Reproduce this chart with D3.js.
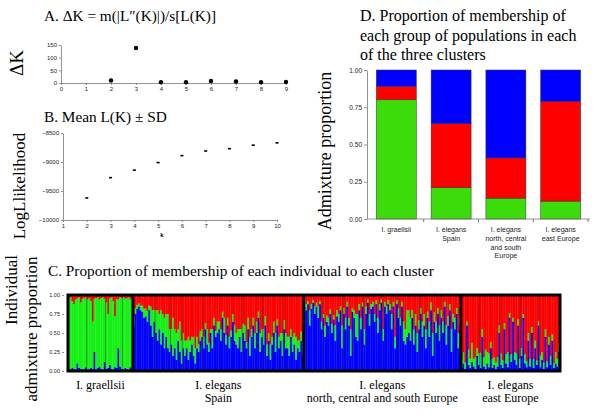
<!DOCTYPE html>
<html><head><meta charset="utf-8">
<script src="https://cdn.jsdelivr.net/npm/d3@7"></script>
<style>body{margin:0;background:#fff}svg{display:block}
.serif{font-family:"Liberation Serif","Times New Roman",Times,"DejaVu Serif",serif}
.sans{font-family:"Liberation Sans",Arial,Helvetica,sans-serif}
</style>
</head><body>
<svg id="c" width="600" height="417"></svg>
<script>
// ---------- DATA ----------
// Panel A: delta K
const dkK = [2,3,4,5,6,7,8,9];
const dkValues = [10,138,3,3,8,6,3,4];
const dkXTicks = [0,1,2,3,4,5,6,7,8,9];
const dkYTicks = [0,50,100,150];
// Panel B: mean L(K)
const lkK = [2,3,4,5,6,7,8,9,10];
const lkMean = [-9620,-9270,-9140,-9010,-8890,-8810,-8770,-8710,-8670];
const lkXTicks = [1,2,3,4,5,6,7,8,9,10];
const lkYTicks = [-10000,-9500,-9000,-8500];
// Panel D: group proportions
const groupLines = [["I. graellsii"],["I. elegans","Spain"],["I. elegans","north, central","and south","Europe"],["I. elegans","east Europe"]];
const groupGreen = [0.80,0.21,0.14,0.12];
const groupRed = [0.09,0.43,0.27,0.67];
const groupBlue = [0.11,0.36,0.59,0.21];
const propTicks = [0,0.25,0.5,0.75,1];
// Panel C: individual proportions (%), blue (bottom) and green (middle); red is the rest
const graellsiiBlue = [3,2,4,3,2,10,4,3,2,3,5,2,3,4,3,25,2,4,6,3,2,12,3,4,8,3,2,5,4,30,6,3,2,4,3,2,5,3];
const graellsiiGreen = [92,95,88,85,92,86,93,87,93,93,92,92,93,88,62,70,94,93,88,93,95,83,87,71,88,94,90,67,91,64,91,93,95,91,93,95,89,93];
const spainBlue = [60,75,82,85,80,78,70,72,65,80,60,45,65,50,40,55,35,50,30,45,30,25,35,20,30,15,40,25,10,30,20,30,15,25,35,20,10,30,25,40,45,30,55,35,25,50,30,60,45,50,55,40,70,50,35,60,30,45,65,40,35,30,45,25,50,40,30,55,20,45,60,30,50,70,25,45,35,60,20,40,15,35,50,25,60,30,40,20,55,30,30,20,45,25,35,15,30,25,40,20];
const spainGreen = [10,8,5,4,6,8,12,10,14,6,25,35,15,30,40,20,45,25,40,30,45,30,20,50,25,35,15,40,30,20,20,10,30,15,10,25,20,15,10,12,10,15,8,20,12,5,25,10,8,15,10,15,8,20,12,10,15,8,10,20,15,25,10,30,12,20,8,15,25,10,10,20,15,8,25,10,20,12,15,10,20,10,15,25,8,15,10,30,12,20,15,25,10,20,15,30,10,15,12,20];
const ncsBlue = [85,80,88,60,82,90,75,85,70,88,55,70,45,65,60,75,50,68,40,72,65,80,30,75,55,85,60,20,78,70,45,40,80,55,85,35,75,90,60,82,85,65,88,50,80,90,40,85,75,88,80,55,85,30,88,70,60,85,40,35,45,50,40,70,35,60,25,55,75,45,60,30,70,45,80,20,65,50,75,40,70,50,85,35,60,80,25,65,55,75,30,60];
const ncsGreen = [5,8,4,20,6,3,10,5,15,4,10,5,15,8,10,6,12,5,20,8,10,5,30,8,15,6,10,35,5,10,30,35,8,15,5,20,10,4,15,6,6,10,5,20,8,4,15,6,10,5,8,20,6,15,5,12,10,6,25,20,35,30,30,10,20,15,25,12,8,20,15,25,8,20,10,30,12,15,8,20,10,15,6,25,12,8,30,10,15,8,20,10];
const eastBlue = [5,10,3,60,8,4,12,6,3,20,8,4,45,6,3,10,5,30,4,8,3,6,50,8,4,55,10,5,70,12,65,15,8,60,4,20,70,10,5,40,6,50,4,30,8,60,5,15,3,45,5,35,8,40,4,10,6,25];
const eastGreen = [10,15,8,5,20,12,25,10,15,10,15,20,10,12,25,15,18,8,12,10,8,12,10,15,10,8,12,20,6,10,5,10,15,8,12,10,5,12,8,10,10,8,12,10,6,5,15,10,8,10,8,10,12,8,6,15,10,10];
const popStarts = [11,22,32,51,60,67,79,102,114,126,149,161,173,184,194,206,218,241,253,265,276];
const indivGroupLines = [["I. graellsii"],["I. elegans","Spain"],["I. elegans","north, central and south Europe"],["I. elegans","east Europe"]];

// ---------- DRAW ----------
const svg = d3.select("#c");
const GREEN_D = "#3cdc0a", GREEN_C = "#14f014", RED = "#ff0000", BLUE = "#0000ff";

function styleAxis(g, fs){
  g.selectAll("path,line").attr("stroke","#777").attr("stroke-width",0.8);
  g.selectAll("text").attr("class","sans").attr("font-family",null).attr("font-size",fs).attr("fill","#222");
}
function title(x,y,txt,fs){
  svg.append("text").attr("class","serif").attr("x",x).attr("y",y).attr("font-size",fs).text(txt);
}
function vlabel(x,y,txt,fs){
  svg.append("text").attr("class","serif").attr("transform",`translate(${x},${y}) rotate(-90)`).attr("text-anchor","middle")
    .attr("font-size",fs).text(txt);
}

// Panel A
title(44,21,"A. \u0394K = m(|L\u2033(K)|)/s[L(K)]",15.3);
const xA = d3.scaleLinear().domain([0,9]).range([61,286]);
const yA = d3.scaleLinear().domain([0,150]).range([83,45]);
svg.append("g").attr("transform","translate(0,83)").call(d3.axisBottom(xA).tickValues(dkXTicks).tickSize(2).tickSizeOuter(0).tickPadding(2)).call(styleAxis,6);
svg.append("g").attr("transform","translate(61,0)").call(d3.axisLeft(yA).tickValues(dkYTicks).tickSize(2).tickSizeOuter(0).tickPadding(2)).call(styleAxis,6);
svg.append("g").selectAll("circle").data(dkK).join("circle")
  .attr("cx",(d)=>xA(d)).attr("cy",(d,i)=>yA(dkValues[i])).attr("r",2.2).attr("fill","#000");
vlabel(23,63,"\u0394K",19);

// Panel B
title(44,122,"B. Mean L(K) \u00b1 SD",15.3);
const xB = d3.scaleLinear().domain([1,10]).range([63,277]);
const yB = d3.scaleLinear().domain([-10000,-8500]).range([220,133]);
svg.append("g").attr("transform","translate(0,220)").call(d3.axisBottom(xB).tickValues(lkXTicks).tickSize(2).tickSizeOuter(0).tickPadding(2)).call(styleAxis,6);
svg.append("g").attr("transform","translate(63,0)").call(d3.axisLeft(yB).tickValues(lkYTicks).tickFormat(d3.format("d")).tickSize(2).tickSizeOuter(0).tickPadding(2)).call(styleAxis,6);
svg.append("g").selectAll("rect").data(lkK).join("rect")
  .attr("x",d=>xB(d)-1.5).attr("y",(d,i)=>yB(lkMean[i])-0.8).attr("width",3).attr("height",1.6).attr("fill","#000");
svg.append("text").attr("class","sans").attr("x",162).attr("y",237).attr("text-anchor","middle").attr("font-size",6).attr("font-weight","bold").text("k");
vlabel(25,186,"LogLlikelihood",17);

// Panel D
title(360,21,"D. Proportion of membership of",16);
title(360,41,"each group of populations in each",16);
title(360,60,"of the three clusters",16);
const groupIdx = d3.range(groupLines.length);
const xD = d3.scaleBand().domain(groupIdx).range([367,590]).paddingInner(0.27).paddingOuter(0.17);
const yD = d3.scaleLinear().domain([0,1]).range([219,70]);
const segs = [];
groupIdx.forEach(i=>{
  segs.push({i,y0:0,y1:groupGreen[i],c:GREEN_D});
  segs.push({i,y0:groupGreen[i],y1:groupGreen[i]+groupRed[i],c:RED});
  segs.push({i,y0:groupGreen[i]+groupRed[i],y1:groupGreen[i]+groupRed[i]+groupBlue[i],c:BLUE});
});
svg.append("g").selectAll("rect").data(segs).join("rect")
  .attr("x",d=>xD(d.i)).attr("width",xD.bandwidth())
  .attr("y",d=>yD(Math.min(1,d.y1))).attr("height",d=>yD(d.y0)-yD(Math.min(1,d.y1)))
  .attr("fill",d=>d.c).attr("stroke","#333").attr("stroke-width",0.5);
const gDy = svg.append("g").attr("transform","translate(367,0)").call(d3.axisLeft(yD).tickValues(propTicks).tickFormat(d3.format(".2f")).tickSize(3).tickSizeOuter(0).tickPadding(2));
styleAxis(gDy,6.5);
svg.append("line").attr("x1",367).attr("x2",590).attr("y1",219).attr("y2",219).attr("stroke","#777").attr("stroke-width",0.8);
svg.append("g").selectAll("line").data(groupIdx).join("line")
  .attr("x1",i=>xD(i)+xD.bandwidth()+xD.step()*xD.paddingInner()/2).attr("x2",i=>xD(i)+xD.bandwidth()+xD.step()*xD.paddingInner()/2)
  .attr("y1",219).attr("y2",222).attr("stroke","#777");
groupIdx.forEach(i=>{
  groupLines[i].forEach((ln,j)=>{
    svg.append("text").attr("class","sans").attr("x",xD(i)+xD.bandwidth()/2).attr("y",232+j*8.8).attr("text-anchor","middle")
      .attr("font-size",7).attr("fill","#222").text(ln);
  });
});
vlabel(331,151,"Admixture proportion",18);

// Panel C
title(48,276,"C. Proportion of membership of each individual to each cluster",15.3);
const groupsC = [[graellsiiBlue,graellsiiGreen],[spainBlue,spainGreen],[ncsBlue,ncsGreen],[eastBlue,eastGreen]];
const indiv = [];
const groupStarts = [];
groupsC.forEach(([b,g])=>{ groupStarts.push(indiv.length); b.forEach((v,k)=>indiv.push({b:v/100,g:g[k]/100})); });
const xC = d3.scaleBand().domain(d3.range(indiv.length)).range([68,560]).padding(0);
const yC = d3.scaleLinear().domain([0,1]).range([371,295]);
const cSegs = [];
indiv.forEach((d,i)=>{
  cSegs.push({i,y0:0,y1:d.b,c:BLUE});
  cSegs.push({i,y0:d.b,y1:d.b+d.g,c:GREEN_C});
  cSegs.push({i,y0:d.b+d.g,y1:1,c:RED});
});
svg.append("g").selectAll("rect").data(cSegs).join("rect")
  .attr("x",d=>xC(d.i)).attr("width",xC.bandwidth()+0.3)
  .attr("y",d=>yC(d.y1)).attr("height",d=>yC(d.y0)-yC(d.y1)).attr("fill",d=>d.c);
svg.append("g").selectAll("line").data(popStarts).join("line")
  .attr("x1",d=>xC(d)).attr("x2",d=>xC(d)).attr("y1",295).attr("y2",371)
  .attr("stroke","#333").attr("stroke-width",0.6).attr("opacity",0.8);
svg.append("rect").attr("x",68).attr("y",295).attr("width",492).attr("height",76).attr("fill","none").attr("stroke","#000").attr("stroke-width",3);
svg.append("g").selectAll("line").data(groupStarts.slice(1)).join("line")
  .attr("x1",d=>xC(d)).attr("x2",d=>xC(d)).attr("y1",294).attr("y2",372).attr("stroke","#000").attr("stroke-width",3);
const gCy = svg.append("g").attr("transform","translate(64,0)").call(d3.axisLeft(yC).tickValues(propTicks).tickFormat(d3.format(".2f")).tickSize(2).tickSizeOuter(0).tickPadding(2));
gCy.select(".domain").remove();
styleAxis(gCy,5.5);
const groupEnds = groupStarts.slice(1).concat([indiv.length]);
groupStarts.forEach((s,gi)=>{
  const cx = (xC(s)+ (groupEnds[gi]<indiv.length? xC(groupEnds[gi]) : 560))/2;
  indivGroupLines[gi].forEach((ln,j)=>{
    svg.append("text").attr("class","serif").attr("x",cx).attr("y",389+j*13).attr("text-anchor","middle")
      .attr("font-size",12).text(ln);
  });
});
vlabel(17,290,"Individual",17);
vlabel(37,329,"admixture proportion",17);
</script>
</body></html>
